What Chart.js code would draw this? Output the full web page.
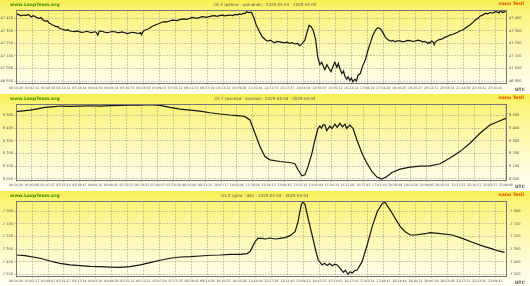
<!DOCTYPE html>
<html>
<head>
<meta charset="utf-8">
<script src="https://cdn.jsdelivr.net/npm/chart.js@4.4.1/dist/chart.umd.min.js"></script>
<style>
  html, body { margin: 0; padding: 0; background: #fffdf0; }
  #wrap { position: relative; width: 530px; height: 286px; overflow: hidden; font-family: "DejaVu Sans", sans-serif; }
  .panel {
    position: absolute; left: 0; width: 530px;
    background: linear-gradient(to bottom, #f7ef4e 0%, #faf47a 12%, #fcf9b4 50%, #fffce0 82%, #fffef2 100%);
  }
  .panel canvas { position: absolute; left: 0; top: 0; }
  .site { position: absolute; left: 10px; top: 2px; font-size: 4.5px; font-weight: bold; color: #3d8c00; }
  .title { position: absolute; left: 0; width: 530px; top: 2px; text-align: center; font-size: 4px; color: #555; }
  .unit { position: absolute; right: 6px; top: 1px; font-size: 4.5px; font-weight: bold; color: #e04a00; }
  .utc { position: absolute; right: 5px; font-size: 4.5px; font-weight: bold; color: #444; }
</style>
</head>
<body>
<div id="wrap">
  <div class="panel" style="top:0;height:93px">
    <canvas id="chartX" width="530" height="93"></canvas>
    <span class="site">www.LoopTeam.org</span>
    <span class="title">Oś X (północ - południe) - 2025-04-04 - 2025-04-04</span>
    <span class="unit">nano Tesli</span>
    <span class="utc" style="top:87px">UTC</span>
  </div>
  <div class="panel" style="top:94px;height:96px">
    <canvas id="chartY" width="530" height="96"></canvas>
    <span class="site">www.LoopTeam.org</span>
    <span class="title">Oś Y (wschód - zachód) - 2025-04-04 - 2025-04-04</span>
    <span class="unit">nano Tesli</span>
    <span class="utc" style="top:90px">UTC</span>
  </div>
  <div class="panel" style="top:191px;height:95px">
    <canvas id="chartZ" width="530" height="95"></canvas>
    <span class="site">www.LoopTeam.org</span>
    <span class="title">Oś Z (góra - dół) - 2025-04-04 - 2025-04-04</span>
    <span class="unit">nano Tesli</span>
    <span class="utc" style="top:89px">UTC</span>
  </div>
</div>
<script>
// --- data (time in hours UTC, field in nT) ---
const xTimes = [0.27,0.38,0.5,0.62,0.75,0.88,1.0,1.1,1.2,1.3,1.38,1.47,1.55,1.62,1.7,1.78,1.86,1.93,2.0,2.1,2.2,2.27,2.34,2.42,2.5,2.6,2.7,2.76,2.82,2.95,3.1,3.2,3.3,3.42,3.55,3.67,3.78,3.9,4.05,4.12,4.2,4.27,4.38,4.5,4.62,4.75,4.87,5.0,5.12,5.23,5.37,5.5,5.6,5.71,5.83,5.95,6.07,6.19,6.25,6.3,6.36,6.43,6.55,6.67,6.78,6.9,7.02,7.15,7.27,7.4,7.52,7.64,7.77,7.9,8.0,8.12,8.23,8.35,8.47,8.6,8.72,8.85,8.97,9.08,9.2,9.3,9.43,9.56,9.68,9.8,9.92,10.04,10.17,10.3,10.42,10.53,10.67,10.8,10.9,11.0,11.1,11.2,11.27,11.34,11.42,11.48,11.55,11.6,11.7,11.8,11.97,12.1,12.21,12.3,12.4,12.5,12.6,12.69,12.8,12.93,13.05,13.15,13.28,13.41,13.53,13.65,13.78,13.9,14.02,14.14,14.25,14.35,14.45,14.55,14.66,14.76,14.86,14.95,15.05,15.1,15.2,15.3,15.4,15.5,15.58,15.68,15.75,15.82,15.92,16.0,16.06,16.15,16.22,16.3,16.38,16.45,16.55,16.62,16.69,16.8,16.93,17.05,17.17,17.3,17.41,17.55,17.65,17.78,17.89,18.0,18.13,18.22,18.3,18.38,18.47,18.58,18.7,18.82,18.95,19.07,19.2,19.32,19.43,19.57,19.7,19.8,19.91,19.98,20.05,20.1,20.15,20.22,20.3,20.35,20.4,20.5,20.6,20.74,20.88,21.0,21.1,21.23,21.36,21.48,21.6,21.72,21.84,21.97,22.1,22.2,22.32,22.44,22.55,22.67,22.8,22.92,23.05,23.17,23.28,23.4,23.47,23.53,23.6,23.65,23.72,23.78];
const xValues = [47476,47482,47468,47475,47472,47478,47460,47470,47462,47452,47448,47455,47440,47432,47425,47430,47412,47405,47398,47392,47382,47385,47372,47366,47362,47357,47353,47360,47350,47346,47344,47349,47343,47338,47340,47346,47340,47336,47342,47338,47316,47345,47348,47340,47335,47338,47344,47342,47337,47336,47341,47334,47328,47331,47338,47336,47332,47330,47335,47318,47340,47352,47360,47368,47382,47392,47400,47408,47418,47422,47420,47428,47435,47432,47430,47438,47442,47444,47440,47448,47456,47452,47449,47455,47462,47460,47456,47463,47468,47470,47465,47470,47474,47468,47472,47475,47470,47480,47476,47484,47480,47490,47486,47502,47496,47494,47498,47490,47450,47400,47340,47300,47285,47272,47270,47276,47262,47255,47265,47262,47258,47254,47260,47250,47255,47245,47250,47232,47250,47275,47340,47394,47380,47350,47280,47140,47080,47100,47060,47040,47080,47050,47025,47070,47100,47060,47090,47050,47010,47030,46990,46965,46985,46955,46975,46945,46965,46950,46995,47010,47075,47120,47195,47260,47315,47360,47375,47365,47335,47300,47278,47272,47268,47274,47262,47270,47270,47264,47266,47274,47272,47265,47268,47275,47270,47262,47266,47258,47248,47258,47252,47268,47262,47240,47260,47272,47280,47286,47300,47306,47315,47320,47330,47338,47350,47356,47370,47385,47400,47415,47435,47448,47465,47474,47488,47484,47495,47490,47502,47498,47492,47508,47500,47495,47502,47498];

const yTimes = [0.27,0.6,0.94,1.3,1.66,2.0,2.38,2.9,3.35,3.8,4.3,4.8,5.27,5.75,6.23,6.71,7.19,7.67,8.15,8.63,9.11,9.59,10.07,10.55,11.03,11.27,11.51,11.75,11.99,12.23,12.47,12.95,13.43,13.67,13.82,14.01,14.15,14.3,14.49,14.63,14.78,14.87,14.95,15.03,15.11,15.2,15.35,15.45,15.59,15.7,15.83,15.95,16.07,16.15,16.31,16.46,16.65,16.89,17.13,17.37,17.61,17.85,18.09,18.33,18.72,19.2,19.68,20.16,20.64,21.12,21.6,22.08,22.56,23.04,23.52,23.8];
const yValues = [8529,8536,8542,8552,8563,8568,8574,8572,8574,8576,8574,8577,8579,8580,8581,8584,8579,8563,8550,8542,8534,8521,8511,8503,8497,8490,8464,8359,8254,8175,8149,8136,8128,8118,8071,8023,8031,8097,8202,8306,8398,8416,8400,8426,8424,8380,8416,8395,8432,8405,8437,8410,8432,8398,8424,8398,8306,8202,8123,8057,8013,7997,8018,8049,8076,8092,8100,8102,8118,8163,8214,8280,8359,8424,8458,8477];

const zTimes = [0.27,0.7,1.42,1.9,2.37,2.85,3.33,3.81,4.29,4.76,5.24,5.72,6.2,6.67,7.15,7.63,8.11,8.59,9.06,9.54,10.02,10.5,10.98,11.31,11.45,11.69,11.83,12.03,12.17,12.4,12.65,12.88,13.12,13.36,13.6,13.74,13.89,13.98,14.08,14.22,14.41,14.56,14.7,14.89,15.0,15.13,15.25,15.37,15.5,15.61,15.75,15.9,16.0,16.13,16.22,16.32,16.44,16.56,16.8,17.04,17.28,17.52,17.76,17.9,18.14,18.38,18.62,18.86,19.1,19.33,19.81,20.05,20.43,21.1,21.58,22.06,22.54,23.01,23.3,23.6];
const zValues = [-7397,-7402,-7423,-7445,-7463,-7476,-7482,-7487,-7490,-7493,-7495,-7490,-7476,-7458,-7439,-7423,-7413,-7410,-7405,-7399,-7397,-7392,-7392,-7386,-7370,-7291,-7265,-7265,-7270,-7262,-7270,-7265,-7259,-7243,-7212,-7132,-7000,-6974,-7000,-7106,-7238,-7344,-7437,-7476,-7462,-7480,-7465,-7482,-7470,-7476,-7503,-7535,-7518,-7550,-7530,-7540,-7522,-7516,-7450,-7318,-7172,-7053,-6987,-6979,-7040,-7106,-7172,-7212,-7238,-7238,-7228,-7220,-7225,-7238,-7265,-7296,-7325,-7349,-7365,-7376];

// tick labels
const xTickLabels = ['00:16:20','01:02:34','01:48:38','02:32:41','03:18:44','04:04:50','04:50:54','05:36:55','06:23:03','07:09:07','07:55:11','08:41:15','09:27:19','10:13:22','10:59:28','11:45:46','12:31:53','13:17:37','14:04:04','14:50:07','15:36:11','16:22:14','17:08:19','17:54:20','18:40:25','19:26:27','20:12:31','20:58:34','21:44:38','22:30:41','23:16:45'];
const yTickLabels = ['00:16:20','01:02:08','01:47:47','02:33:16','03:18:45','04:04:16','04:49:45','05:35:31','06:19:23','07:04:53','07:50:39','08:36:06','09:21:36','10:07:17','10:52:46','11:38:26','12:24:15','13:09:45','13:55:16','14:41:04','15:26:34','16:12:05','16:57:45','17:43:19','18:28:49','19:14:20','20:00:05','20:45:01','21:31:21','22:16:51','23:02:37','23:48:08'];
const zTickLabels = ['00:16:20','01:02:17','01:48:01','02:32:27','03:17:34','04:03:10','04:49:29','05:35:16','06:21:21','07:07:50','07:53:35','08:39:42','09:24:39','10:10:33','10:56:28','11:42:00','12:27:28','13:13:45','13:59:22','14:45:35','15:31:02','16:17:06','17:02:24','17:48:41','18:34:44','19:20:21','20:06:19','20:52:08','21:37:51','22:23:26','23:09:41'];

const xFieldTicks = [46950,47000,47050,47100,47150,47200,47250,47300,47350,47400,47450,47500];
const yFieldTicks = [8000,8050,8100,8150,8200,8250,8300,8350,8400,8450,8500,8550];
const zFieldTicks = [-7550,-7500,-7450,-7400,-7350,-7300,-7250,-7200,-7150,-7100,-7050,-7000];

function hours(s) {
  const p = s.split(':').map(Number);
  return p[0] + p[1] / 60 + p[2] / 3600;
}

function fmt(v) {
  const a = Math.abs(v);
  return (v < 0 ? '-' : '') + Math.floor(a / 1000) + ' ' + String(a % 1000).padStart(3, '0');
}

const frame = {
  id: 'frame',
  afterDraw(chart) {
    const a = chart.chartArea, c = chart.ctx;
    c.save();
    c.strokeStyle = '#777';
    c.lineWidth = 1;
    c.strokeRect(Math.round(a.left) + 0.5, Math.round(a.top) + 0.5, Math.round(a.right - a.left), Math.round(a.bottom - a.top));
    c.restore();
  }
};

function buildPanel(id, times, values, tickLabels, fieldTicks, yMin, yMax, xMax) {
  const pts = times.map((t, i) => ({ x: t, y: values[i] }));
  const tickVals = tickLabels.map(hours);
  const gridCol = 'rgba(160,160,150,0.55)';
  const yAxis = (pos) => ({
    type: 'linear', position: pos, min: yMin, max: yMax,
    afterBuildTicks: s => { s.ticks = fieldTicks.map(v => ({ value: v })); },
    afterFit: s => { s.width = pos === 'left' ? 16 : 24; },
    grid: { display: pos === 'left', color: gridCol, tickLength: 2, drawTicks: true },
    border: { display: false, dash: [2, 1] },
    ticks: { font: { size: 3.6, family: 'DejaVu Sans' }, color: '#555', padding: 1, callback: v => fmt(v) }
  });
  return new Chart(document.getElementById(id), {
    type: 'line',
    data: {
      datasets: [{
        data: pts, borderColor: '#151515', borderWidth: 1.2,
        pointRadius: 0, tension: 0, fill: false
      }]
    },
    options: {
      responsive: false, animation: false, devicePixelRatio: 1,
      layout: { padding: { top: 10, bottom: 3, left: 0, right: 0 } },
      plugins: { legend: { display: false }, tooltip: { enabled: false } },
      scales: {
        x: {
          type: 'linear', min: 0.272, max: xMax,
          afterBuildTicks: s => { s.ticks = tickVals.map(v => ({ value: v })); },
          afterFit: s => { s.height = 7; },
          grid: { color: gridCol, tickLength: 2 },
          border: { display: false, dash: [2, 1] },
          ticks: {
            font: { size: 3.2, family: 'DejaVu Sans' }, color: '#555', padding: 1,
            maxRotation: 0, autoSkip: false,
            callback: (v, i) => tickLabels[i]
          }
        },
        y: yAxis('left'),
        y2: yAxis('right')
      }
    },
    plugins: [frame]
  });
}

buildPanel('chartX', xTimes, xValues, xTickLabels, xFieldTicks, 46935, 47515, 23.80);
buildPanel('chartY', yTimes, yValues, yTickLabels, yFieldTicks, 7990, 8590, 23.81);
buildPanel('chartZ', zTimes, zValues, zTickLabels, zFieldTicks, -7564, -6968, 23.67);
</script>
</body>
</html>
